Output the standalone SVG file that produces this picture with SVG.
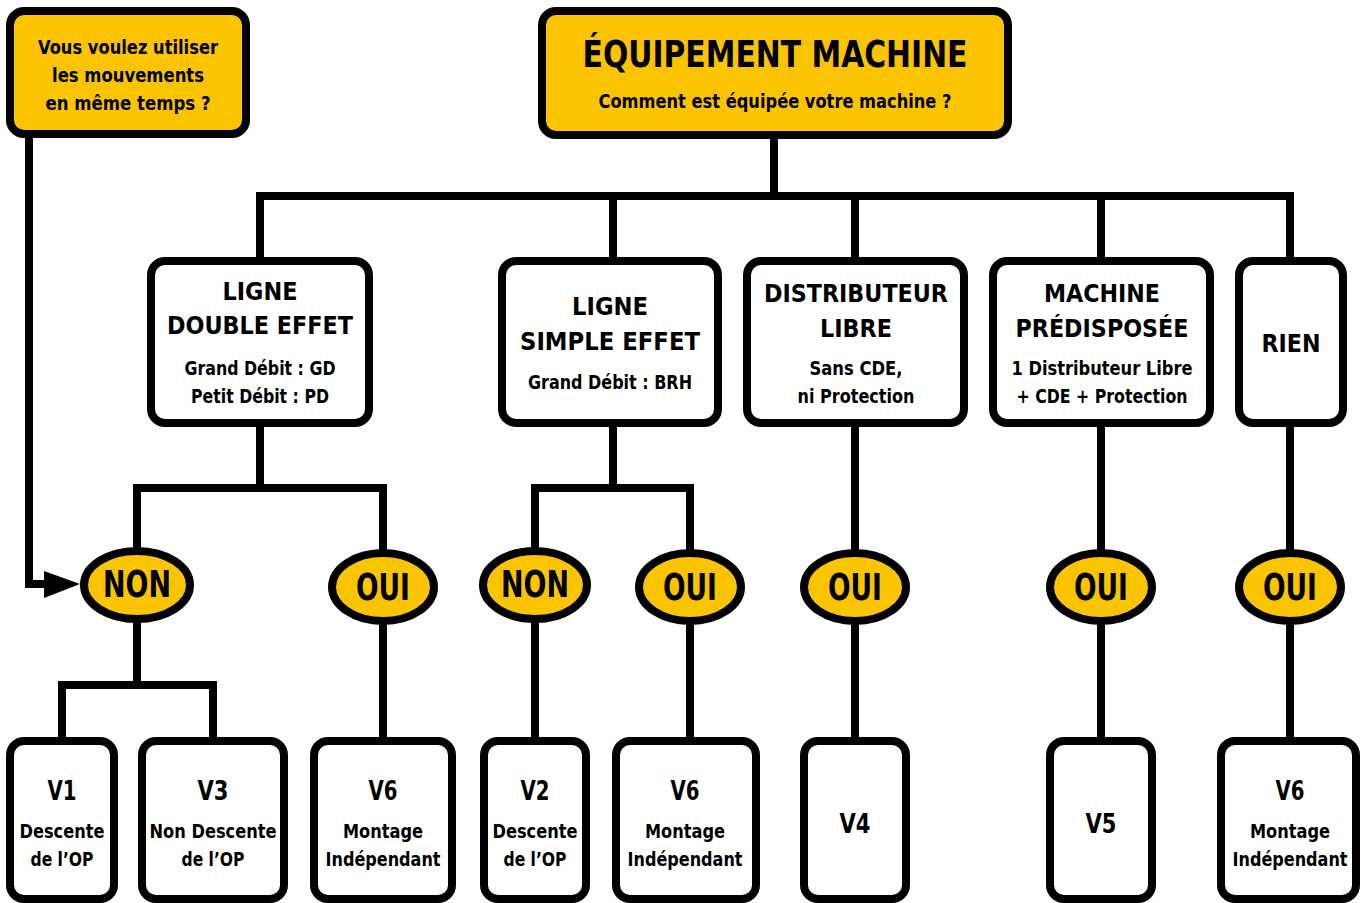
<svg xmlns="http://www.w3.org/2000/svg" width="1365" height="903" viewBox="0 0 1365 903">
<defs>
<style>
.box{fill:#fff;stroke:#000;stroke-width:8}
.ybox{fill:#FBC400;stroke:#000;stroke-width:8}
.ell{fill:#FBC400;stroke:#000;stroke-width:8}
.ln{fill:none;stroke:#000;stroke-width:8;stroke-linejoin:miter;stroke-linecap:butt}
text{font-family:"Liberation Sans Narrow","DejaVu Sans Condensed","Roboto",sans-serif;font-weight:bold;fill:#000;text-anchor:middle}
.h{font-size:25px}
.s{font-size:20px}
.t{font-size:38px}
.e{font-size:37px}
.v{font-size:26px}
</style>
</defs>
<rect width="1365" height="903" fill="#fff"/>
<g id="connectors">
<path class="ln" d="M774,135V196M260,196H1290M260,192V261M613,192V261M855,192V261M1101,192V261M1290,192V261"/>
<path class="ln" d="M260,423V488M137,488H387M137,484V551M383,484V551"/>
<path class="ln" d="M613,423V488M535,488H694M535,484V551M690,484V551"/>
<path class="ln" d="M855,423V551M1101,423V551M1290,423V551"/>
<path class="ln" d="M137,619V685M62,685H217M62,681V741M213,681V741M383,619V741M535,619V741M690,619V741M855,619V741M1101,619V741M1290,619V741"/>
<path class="ln" d="M29,134V584H46"/>
<path d="M44,571L80,584L44,598Z" fill="#000"/>
</g>
<g id="q-simultane">
<rect class="ybox" x="10" y="11" width="236" height="123" rx="14"/>
<text class="s" x="128" y="54" textLength="180" lengthAdjust="spacingAndGlyphs">Vous voulez utiliser</text>
<text class="s" x="128" y="82" textLength="152" lengthAdjust="spacingAndGlyphs">les mouvements</text>
<text class="s" x="128" y="110" textLength="165" lengthAdjust="spacingAndGlyphs">en même temps ?</text>
</g>
<g id="equipement">
<rect class="ybox" x="542" y="11" width="466" height="124" rx="14"/>
<text class="t" x="775" y="67" textLength="385" lengthAdjust="spacingAndGlyphs">ÉQUIPEMENT MACHINE</text>
<text class="s" x="775" y="108" textLength="353" lengthAdjust="spacingAndGlyphs">Comment est équipée votre machine ?</text>
</g>
<g id="ligne-double">
<rect class="box" x="151" y="261" width="218" height="162" rx="14"/>
<text class="h" x="260" y="300" textLength="75" lengthAdjust="spacingAndGlyphs">LIGNE</text>
<text class="h" x="260" y="334" textLength="186" lengthAdjust="spacingAndGlyphs">DOUBLE EFFET</text>
<text class="s" x="260" y="375" textLength="151" lengthAdjust="spacingAndGlyphs">Grand Débit : GD</text>
<text class="s" x="260" y="403" textLength="138" lengthAdjust="spacingAndGlyphs">Petit Débit : PD</text>
</g>
<g id="ligne-simple">
<rect class="box" x="502" y="261" width="216" height="162" rx="14"/>
<text class="h" x="610" y="315" textLength="76" lengthAdjust="spacingAndGlyphs">LIGNE</text>
<text class="h" x="610" y="350" textLength="180" lengthAdjust="spacingAndGlyphs">SIMPLE EFFET</text>
<text class="s" x="610" y="389" textLength="164" lengthAdjust="spacingAndGlyphs">Grand Débit : BRH</text>
</g>
<g id="distributeur">
<rect class="box" x="747" y="261" width="217" height="162" rx="14"/>
<text class="h" x="856" y="302" textLength="184" lengthAdjust="spacingAndGlyphs">DISTRIBUTEUR</text>
<text class="h" x="856" y="337" textLength="72" lengthAdjust="spacingAndGlyphs">LIBRE</text>
<text class="s" x="856" y="375" textLength="93" lengthAdjust="spacingAndGlyphs">Sans CDE,</text>
<text class="s" x="856" y="403" textLength="117" lengthAdjust="spacingAndGlyphs">ni Protection</text>
</g>
<g id="machine">
<rect class="box" x="993" y="261" width="217" height="162" rx="14"/>
<text class="h" x="1102" y="302" textLength="116" lengthAdjust="spacingAndGlyphs">MACHINE</text>
<text class="h" x="1102" y="337" textLength="173" lengthAdjust="spacingAndGlyphs">PRÉDISPOSÉE</text>
<text class="s" x="1102" y="375" textLength="181" lengthAdjust="spacingAndGlyphs">1 Distributeur Libre</text>
<text class="s" x="1102" y="403" textLength="171" lengthAdjust="spacingAndGlyphs">+ CDE + Protection</text>
</g>
<g id="rien">
<rect class="box" x="1239" y="261" width="104" height="162" rx="14"/>
<text class="h" x="1291" y="352" textLength="59" lengthAdjust="spacingAndGlyphs">RIEN</text>
</g>
<g id="non-1"><ellipse class="ell" cx="137" cy="585" rx="53" ry="34"/><text class="e" x="137" y="597" textLength="68" lengthAdjust="spacingAndGlyphs">NON</text></g>
<g id="oui-1"><ellipse class="ell" cx="383" cy="587" rx="51" ry="34"/><text class="e" x="383" y="600" textLength="54" lengthAdjust="spacingAndGlyphs">OUI</text></g>
<g id="non-2"><ellipse class="ell" cx="535" cy="585" rx="52" ry="34"/><text class="e" x="535" y="597" textLength="68" lengthAdjust="spacingAndGlyphs">NON</text></g>
<g id="oui-2"><ellipse class="ell" cx="690" cy="587" rx="51" ry="34"/><text class="e" x="690" y="600" textLength="54" lengthAdjust="spacingAndGlyphs">OUI</text></g>
<g id="oui-3"><ellipse class="ell" cx="855" cy="587" rx="51" ry="34"/><text class="e" x="855" y="600" textLength="54" lengthAdjust="spacingAndGlyphs">OUI</text></g>
<g id="oui-4"><ellipse class="ell" cx="1101" cy="587" rx="51" ry="34"/><text class="e" x="1101" y="600" textLength="54" lengthAdjust="spacingAndGlyphs">OUI</text></g>
<g id="oui-5"><ellipse class="ell" cx="1290" cy="587" rx="51" ry="34"/><text class="e" x="1290" y="600" textLength="54" lengthAdjust="spacingAndGlyphs">OUI</text></g>
<g id="v1"><rect class="box" x="10" y="741" width="104" height="158" rx="14"/><text class="v" x="62" y="800" textLength="29" lengthAdjust="spacingAndGlyphs">V1</text><text class="s" x="62" y="838" textLength="85" lengthAdjust="spacingAndGlyphs">Descente</text><text class="s" x="62" y="866" textLength="63" lengthAdjust="spacingAndGlyphs">de l’OP</text></g>
<g id="v3"><rect class="box" x="142" y="741" width="142" height="158" rx="14"/><text class="v" x="213" y="800" textLength="31" lengthAdjust="spacingAndGlyphs">V3</text><text class="s" x="213" y="838" textLength="127" lengthAdjust="spacingAndGlyphs">Non Descente</text><text class="s" x="213" y="866" textLength="63" lengthAdjust="spacingAndGlyphs">de l’OP</text></g>
<g id="v6-1"><rect class="box" x="314" y="741" width="138" height="158" rx="14"/><text class="v" x="383" y="800" textLength="29" lengthAdjust="spacingAndGlyphs">V6</text><text class="s" x="383" y="838" textLength="80" lengthAdjust="spacingAndGlyphs">Montage</text><text class="s" x="383" y="866" textLength="115" lengthAdjust="spacingAndGlyphs">Indépendant</text></g>
<g id="v2"><rect class="box" x="484" y="741" width="102" height="158" rx="14"/><text class="v" x="535" y="800" textLength="29" lengthAdjust="spacingAndGlyphs">V2</text><text class="s" x="535" y="838" textLength="85" lengthAdjust="spacingAndGlyphs">Descente</text><text class="s" x="535" y="866" textLength="63" lengthAdjust="spacingAndGlyphs">de l’OP</text></g>
<g id="v6-2"><rect class="box" x="616" y="741" width="140" height="158" rx="14"/><text class="v" x="685" y="800" textLength="29" lengthAdjust="spacingAndGlyphs">V6</text><text class="s" x="685" y="838" textLength="80" lengthAdjust="spacingAndGlyphs">Montage</text><text class="s" x="685" y="866" textLength="115" lengthAdjust="spacingAndGlyphs">Indépendant</text></g>
<g id="v4"><rect class="box" x="804" y="741" width="102" height="158" rx="14"/><text class="v" x="855" y="833" textLength="31" lengthAdjust="spacingAndGlyphs">V4</text></g>
<g id="v5"><rect class="box" x="1050" y="741" width="102" height="158" rx="14"/><text class="v" x="1101" y="833" textLength="31" lengthAdjust="spacingAndGlyphs">V5</text></g>
<g id="v6-3"><rect class="box" x="1221" y="741" width="135" height="158" rx="14"/><text class="v" x="1290" y="800" textLength="29" lengthAdjust="spacingAndGlyphs">V6</text><text class="s" x="1290" y="838" textLength="80" lengthAdjust="spacingAndGlyphs">Montage</text><text class="s" x="1290" y="866" textLength="115" lengthAdjust="spacingAndGlyphs">Indépendant</text></g>
</svg>
